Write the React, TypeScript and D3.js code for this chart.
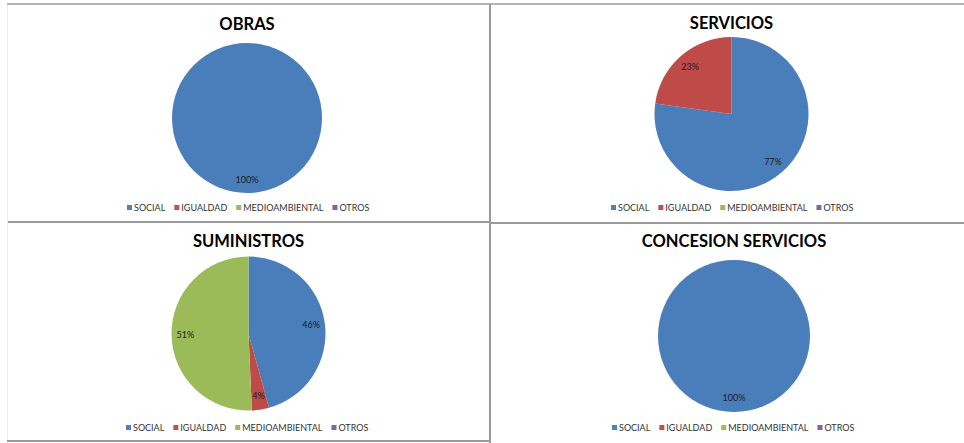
import { useEffect, useRef } from "react";
import * as d3 from "d3";

const W = 964, H = 443;

const CATEGORIES = ["SOCIAL", "IGUALDAD", "MEDIOAMBIENTAL", "OTROS"];
const COLORS = ["#4A7EBB", "#BE4B48", "#9BBB59", "#8064A2"];
const LEGEND_COLORS = ["#4F81BD", "#C0504D", "#9BBB59", "#8064A2"];

const TITLES = ["OBRAS", "SERVICIOS", "SUMINISTROS", "CONCESION SERVICIOS"];
const OBRAS = [100, 0, 0, 0];
const SERVICIOS = [77.2, 22.8, 0, 0];
const SUMINISTROS = [45.7, 3.6, 50.7, 0];
const CONCESION = [100, 0, 0, 0];

// panel layout: pie centre, radius, title baseline, legend row
const PANELS = [
  { values: OBRAS, cx: 247, cy: 118, r: 75, ty: 30, ly: 208, lx: 127 },
  { values: SERVICIOS, cx: 731.5, cy: 114, r: 77, ty: 29, ly: 208, lx: 611 },
  { values: SUMINISTROS, cx: 248.5, cy: 333.5, r: 77, ty: 247, ly: 428, lx: 126 },
  { values: CONCESION, cx: 734, cy: 336, r: 76, ty: 247, ly: 428, lx: 612 },
];

const FONT = "Lato, 'Open Sans', sans-serif";

export default function App() {
  const svgRef = useRef<SVGSVGElement>(null);

  useEffect(() => {
    if (!svgRef.current) return;
    const svg = d3.select(svgRef.current);
    svg.selectAll("*").remove();

    svg.append("rect").attr("width", W).attr("height", H).attr("fill", "#fff");

    // frame lines
    const frame = svg.append("g").attr("stroke", "#9a9a9a").attr("stroke-width", 2);
    frame.append("line").attr("x1", 7).attr("x2", W).attr("y1", 4).attr("y2", 4).attr("stroke", "#b4b4b4");
    frame.append("line").attr("x1", 490).attr("x2", 490).attr("y1", 4).attr("y2", H);
    frame.append("line").attr("x1", 7).attr("x2", 490).attr("y1", 222).attr("y2", 222);
    frame.append("line").attr("x1", 490).attr("x2", W).attr("y1", 223).attr("y2", 223);
    frame.append("line").attr("x1", 7).attr("x2", 490).attr("y1", 441).attr("y2", 441);
    svg.append("line").attr("x1", 7.5).attr("x2", 7.5).attr("y1", 5).attr("y2", 440)
      .attr("stroke", "#f3e6e2").attr("stroke-width", 1);

    const pie = d3.pie<number>().sort(null).value(d => d);

    PANELS.forEach((p, pi) => {
      const g = svg.append("g");

      g.append("text").attr("x", p.cx).attr("y", p.ty).attr("text-anchor", "middle")
        .attr("font-family", FONT).attr("font-weight", 700).attr("font-size", "16.5px")
        .attr("fill", "#000").text(TITLES[pi]);

      const arcs = pie(p.values);
      const arc = d3.arc<d3.PieArcDatum<number>>().innerRadius(0).outerRadius(p.r);
      const lblArc = d3.arc<d3.PieArcDatum<number>>().innerRadius(p.r * 0.82).outerRadius(p.r * 0.82);

      const pg = g.append("g").attr("transform", `translate(${p.cx},${p.cy})`);
      pg.selectAll("path").data(arcs.filter(d => d.value > 0)).join("path")
        .attr("d", arc).attr("fill", d => COLORS[d.index]);

      pg.selectAll("text").data(arcs.filter(d => d.value > 0)).join("text")
        .attr("transform", d => `translate(${lblArc.centroid(d)})`)
        .attr("text-anchor", "middle").attr("dy", "0.35em")
        .attr("font-family", FONT).attr("font-size", "9px").attr("fill", "#1a1a1a")
        .text(d => `${Math.round(d.value)}%`);

      // legend
      const lg = g.append("g").attr("transform", `translate(${p.lx},${p.ly})`);
      let x = 0;
      CATEGORIES.forEach((c, i) => {
        lg.append("rect").attr("x", x).attr("y", -3).attr("width", 5).attr("height", 5)
          .attr("fill", LEGEND_COLORS[i]);
        const t = lg.append("text").attr("x", x + 7).attr("y", 0).attr("dy", "0.35em")
          .attr("font-family", FONT).attr("font-size", "9px").attr("fill", "#333").text(c);
        const w = (t.node() as SVGTextElement).getComputedTextLength();
        x += 7 + w + 9;
      });
    });
  }, []);

  return (
    <svg ref={svgRef} width={W} height={H}
      style={{ position: "absolute", left: 0, top: 0, display: "block" }} />
  );
}
